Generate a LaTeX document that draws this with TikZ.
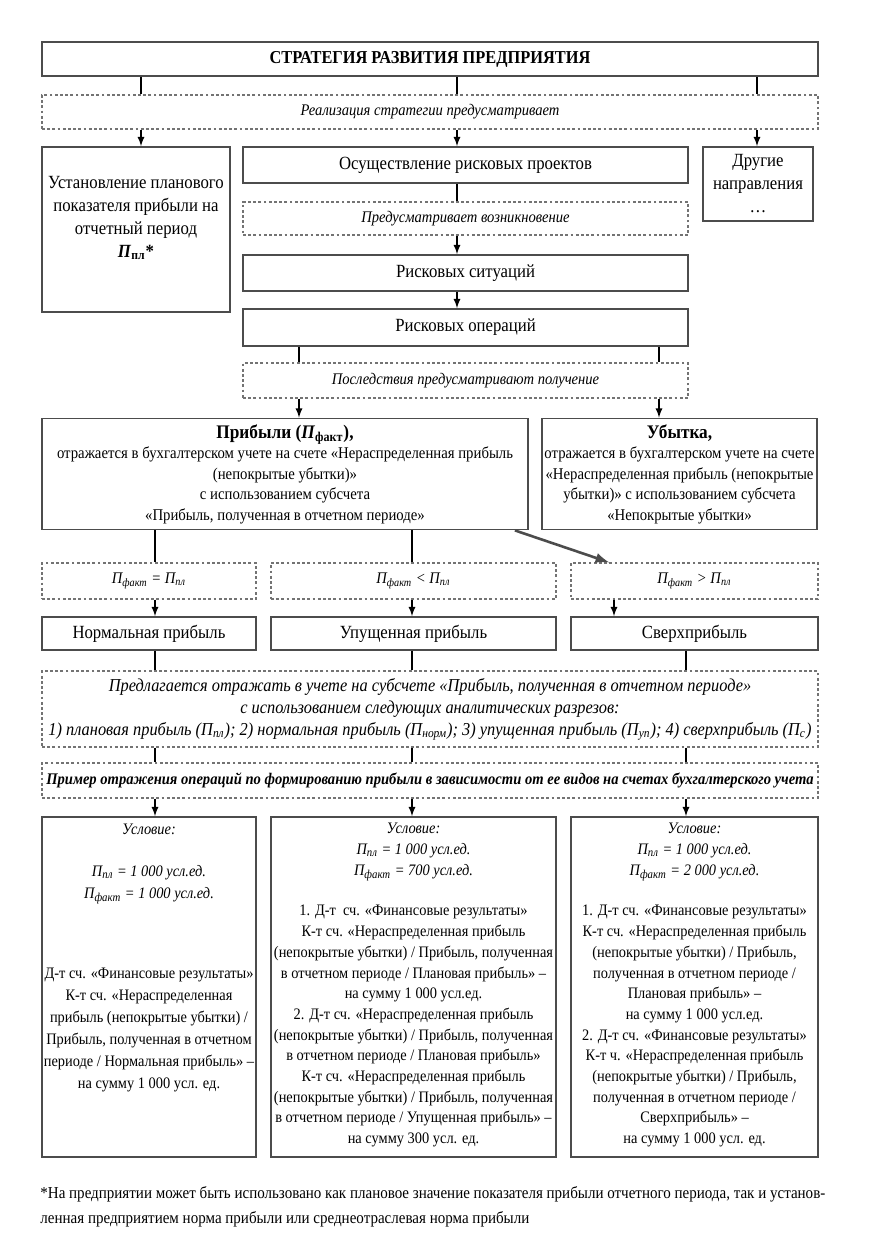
\documentclass[tikz,border=0pt]{standalone}
\usepackage{fontspec}
\setmainfont{Liberation Serif}[FakeStretch=0.9]
\usetikzlibrary{arrows,calc}
\definecolor{BoxClr}{gray}{0.3}
\definecolor{DashClr}{gray}{0.45}
\newcommand{\Psub}[1]{\textit{П}\textsubscript{#1}}
\tikzset{
  box/.style={draw=BoxClr,line width=0.9pt,align=center,inner sep=0pt},
  dbox/.style={draw=DashClr,line width=0.7pt,dash pattern=on 1.4pt off 1.2pt,align=center,inner sep=0pt},
  link/.style={line width=0.6pt},
  arr/.style={line width=0.6pt,-latex},
  diag/.style={line width=1.3pt,draw=BoxClr,-latex},
  big/.style={font=\fontsize{9.3}{11.5}\selectfont},
  mid/.style={font=\fontsize{8.2}{10.25}\selectfont},
  small/.style={font=\fontsize{8}{10.35}\selectfont},
  note/.style={font=\fontsize{8.1}{10}\selectfont\itshape}
}

\begin{document}
\begin{tikzpicture}[x=0.5pt,y=-0.5pt]
\useasboundingbox (0,0) rectangle (892,1237);

% columns of the connectors
\coordinate (xa) at (141,0);
\coordinate (xb) at (457,0);
\coordinate (xc) at (757,0);
\coordinate (xd) at (299,0);
\coordinate (xe) at (659,0);
\coordinate (xf) at (155,0);
\coordinate (xg) at (412,0);
\coordinate (xh) at (614,0);
\coordinate (xi) at (686,0);
\coordinate (xj) at (609,0);

% upper part
\node[box,minimum width=388pt,minimum height=17pt,font=\fontsize{9.1}{11}\selectfont\bfseries] (strat) at (430,59) {СТРАТЕГИЯ РАЗВИТИЯ ПРЕДПРИЯТИЯ};
\node[dbox,note,minimum width=388pt,minimum height=17pt] (real) at (430,112) {Реализация стратегии предусматривает};

\node[box,minimum width=94pt,minimum height=82.5pt] (plan) at (136,229.5) {};
\node[big,align=center,inner sep=0pt] (plantxt) at (136,218) {Установление планового\\показателя прибыли на\\отчетный период\\\textbf{\Psub{пл}*}};
\node[box,big,minimum width=222.5pt,minimum height=18pt] (proj) at (465.5,165) {Осуществление рисковых проектов};
\node[box,big,minimum width=55pt,minimum height=37pt] (other) at (758,184) {Другие\\направления\\\ldots};

\node[dbox,note,minimum width=222.5pt,minimum height=16.5pt] (pred) at (465.5,218.5) {Предусматривает возникновение};
\node[box,big,minimum width=222.5pt,minimum height=18pt] (sit) at (465.5,273) {Рисковых ситуаций};
\node[box,big,minimum width=222.5pt,minimum height=18.5pt] (oper) at (465.5,327.5) {Рисковых операций};
\node[dbox,note,minimum width=222.5pt,minimum height=17.5pt] (cons) at (465.5,380.5) {Последствия предусматривают получение};

\node[box,mid,minimum width=243pt,minimum height=55.5pt] (prib) at (285,474) {{\fontsize{9.6}{10.25}\selectfont\textbf{Прибыли (\Psub{факт}),}}\\отражается в бухгалтерском учете на счете «Нераспределенная прибыль\\(непокрытые убытки)»\\с использованием субсчета\\«Прибыль, полученная в отчетном периоде»};
\node[box,mid,minimum width=137.5pt,minimum height=55.5pt] (loss) at (679.5,474) {{\fontsize{9.6}{10.25}\selectfont\textbf{Убытка,}}\\отражается в бухгалтерском учете на счете\\«Нераспределенная прибыль (непокрытые\\убытки)» с использованием субсчета\\«Непокрытые убытки»};

% kinds of profit
\node[dbox,note,minimum width=107pt,minimum height=18pt] (cond1) at (149,581) {\Psub{факт} = \Psub{пл}};
\node[dbox,note,minimum width=142.5pt,minimum height=18pt] (cond2) at (413.5,581) {\Psub{факт} < \Psub{пл}};
\node[dbox,note,minimum width=123.5pt,minimum height=18pt] (cond3) at (694.5,581) {\Psub{факт} > \Psub{пл}};
\node[box,big,minimum width=107pt,minimum height=16.5pt] (norm) at (149,633.5) {Нормальная прибыль};
\node[box,big,minimum width=142.5pt,minimum height=16.5pt] (lost) at (413.5,633.5) {Упущенная прибыль};
\node[box,big,minimum width=123.5pt,minimum height=16.5pt] (over) at (694.5,633.5) {Сверхприбыль};

\node[dbox,font=\fontsize{9.1}{11}\selectfont\itshape,minimum width=388pt,minimum height=38pt] (anal) at (430,709) {Предлагается отражать в учете на субсчете «Прибыль, полученная в отчетном периоде»\\с использованием следующих аналитических разрезов:\\1) плановая прибыль (\Psub{пл}); 2) нормальная прибыль (\Psub{норм}); 3) упущенная прибыль (\Psub{уп}); 4) сверхприбыль (\Psub{с})};
\node[dbox,font=\fontsize{8.1}{11}\selectfont\bfseries\itshape,minimum width=388pt,minimum height=17.5pt] (exam) at (430,780.5) {Пример отражения операций по формированию прибыли в зависимости от ее видов на счетах бухгалтерского учета};

% examples
\node[box,minimum width=107pt,minimum height=170pt] (ex1) at (149,987) {};
\node[box,minimum width=142.5pt,minimum height=170pt] (ex2) at (413.5,987) {};
\node[box,minimum width=123.5pt,minimum height=170pt] (ex3) at (694.5,987) {};

\node[small,align=center,anchor=north,inner sep=0pt,font=\fontsize{8}{11}\selectfont] (ex1txt) at (149,824) {\textit{Условие:}\\[10pt]
\textit{\Psub{пл} = 1~000 усл.ед.}\\
\textit{\Psub{факт} = 1~000 усл.ед.}\\[29pt]
Д-т сч. «Финансовые результаты»\\
К-т сч. «Нераспределенная\\
прибыль (непокрытые убытки) /\\
Прибыль, полученная в отчетном\\
периоде / Нормальная прибыль» –\\
на сумму 1~000 усл. ед.};
\node[small,align=center,anchor=north,inner sep=0pt] (ex2txt) at (413.5,823) {\textit{Условие:}\\
\textit{\Psub{пл} = 1~000 усл.ед.}\\
\textit{\Psub{факт} = 700 усл.ед.}\\[10pt]
1. Д-т~ сч. «Финансовые результаты»\\
К-т сч. «Нераспределенная прибыль\\
(непокрытые убытки) / Прибыль, полученная\\
в отчетном периоде / Плановая прибыль» –\\
на сумму 1~000 усл.ед.\\
2. Д-т сч. «Нераспределенная прибыль\\
(непокрытые убытки) / Прибыль, полученная\\
в отчетном периоде / Плановая прибыль»\\
К-т сч. «Нераспределенная прибыль\\
(непокрытые убытки) / Прибыль, полученная\\
в отчетном периоде / Упущенная прибыль» –\\
на сумму 300 усл. ед.};
\node[small,align=center,anchor=north,inner sep=0pt] (ex3txt) at (694.5,823) {\textit{Условие:}\\
\textit{\Psub{пл} = 1~000 усл.ед.}\\
\textit{\Psub{факт} = 2~000 усл.ед.}\\[10pt]
1. Д-т сч. «Финансовые результаты»\\
К-т сч. «Нераспределенная прибыль\\
(непокрытые убытки) / Прибыль,\\
полученная в отчетном периоде /\\
Плановая прибыль» –\\
на сумму 1~000 усл.ед.\\
2. Д-т сч. «Финансовые результаты»\\
К-т ч. «Нераспределенная прибыль\\
(непокрытые убытки) / Прибыль,\\
полученная в отчетном периоде /\\
Сверхприбыль» –\\
на сумму 1~000 усл. ед.};

\node[align=left,anchor=north west,inner sep=0pt,font=\fontsize{8.35}{12.5}\selectfont] (foot) at (40,1186) {*На предприятии может быть использовано как плановое значение показателя прибыли отчетного периода, так и установ-\\ленная предприятием норма прибыли или среднеотраслевая норма прибыли};

% connectors
\foreach \c in {xa,xb,xc}
  \draw[link] (strat.south -| \c) -- (real.north -| \c);
\draw[arr] (real.south -| xa) -- (plan.north -| xa);
\draw[arr] (real.south -| xb) -- (proj.north -| xb);
\draw[arr] (real.south -| xc) -- (other.north -| xc);
\draw[link] (proj.south -| xb) -- (pred.north -| xb);
\draw[arr] (pred.south -| xb) -- (sit.north -| xb);
\draw[arr] (sit.south -| xb) -- (oper.north -| xb);
\foreach \c in {xd,xe}
  \draw[link] (oper.south -| \c) -- (cons.north -| \c);
\draw[arr] (cons.south -| xd) -- (prib.north -| xd);
\draw[arr] (cons.south -| xe) -- (loss.north -| xe);

\draw[link] (prib.south -| xf) -- (cond1.north -| xf);
\draw[link] (prib.south -| xg) -- (cond2.north -| xg);
\draw[diag] ($(prib.south east)+(-14,0)$) -- (cond3.north -| xj);
\draw[arr] (cond1.south -| xf) -- (norm.north -| xf);
\draw[arr] (cond2.south -| xg) -- (lost.north -| xg);
\draw[arr] (cond3.south -| xh) -- (over.north -| xh);
\draw[link] (norm.south -| xf) -- (anal.north -| xf);
\draw[link] (lost.south -| xg) -- (anal.north -| xg);
\draw[link] (over.south -| xi) -- (anal.north -| xi);
\foreach \c in {xf,xg,xi}
  \draw[link] (anal.south -| \c) -- (exam.north -| \c);
\draw[arr] (exam.south -| xf) -- (ex1.north -| xf);
\draw[arr] (exam.south -| xg) -- (ex2.north -| xg);
\draw[arr] (exam.south -| xi) -- (ex3.north -| xi);

\end{tikzpicture}
\end{document}
